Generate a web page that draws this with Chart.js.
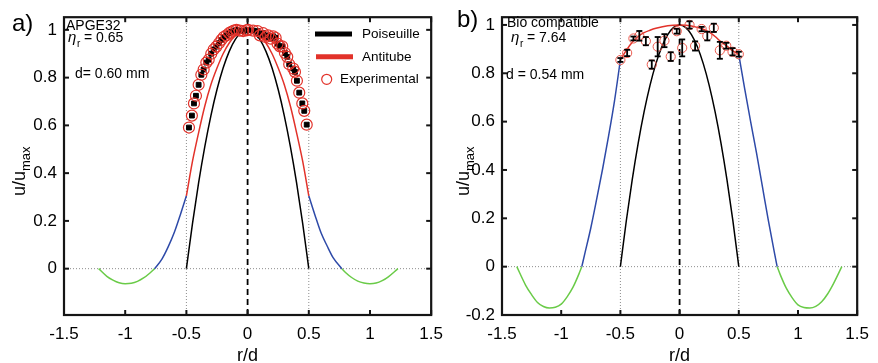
<!DOCTYPE html>
<html>
<head>
<meta charset="utf-8">
<script src="https://cdn.jsdelivr.net/npm/chart.js"></script>
<style>
  html, body { margin: 0; padding: 0; background: #fff; }
  #wrap { position: relative; width: 878px; height: 363px; overflow: hidden; }
  canvas { position: absolute; top: 0; }
  #chartA { left: 0; }
  #chartB { left: 448px; }
</style>
</head>
<body>
<div id="wrap">
  <canvas id="chartA" width="452" height="363" style="width:452px;height:363px"></canvas>
  <canvas id="chartB" width="430" height="363" style="width:430px;height:363px"></canvas>
</div>
<script>
"use strict";
const xTicks = [-1.5, -1, -0.5, 0, 0.5, 1, 1.5];
const yTicksA = [0, 0.2, 0.4, 0.6, 0.8, 1];
const yTicksB = [-0.2, 0, 0.2, 0.4, 0.6, 0.8, 1];
const xMin = -1.5, xMax = 1.5;
const yMinA = -0.194, yMaxA = 1.053;
const yMinB = -0.2, yMaxB = 1.032;

// Poiseuille profile (same in both panels)
const innerR = [-0.5, -0.45, -0.4, -0.35, -0.3, -0.25, -0.2, -0.15, -0.1, -0.05, 0,
  0.05, 0.1, 0.15, 0.2, 0.25, 0.3, 0.35, 0.4, 0.45, 0.5];
const poiseuilleU = [0, 0.19, 0.36, 0.51, 0.64, 0.75, 0.84, 0.91, 0.96, 0.99, 1,
  0.99, 0.96, 0.91, 0.84, 0.75, 0.64, 0.51, 0.36, 0.19, 0];

// panel a) APGE32
const antitubeAU = [0.305, 0.45, 0.57, 0.68, 0.77, 0.84, 0.9, 0.945, 0.975, 0.994, 1,
  0.994, 0.975, 0.945, 0.9, 0.84, 0.77, 0.68, 0.57, 0.45, 0.305];
const blueALeftR = [-0.76, -0.7, -0.65, -0.6, -0.55, -0.5];
const blueALeftU = [0, 0.04, 0.09, 0.15, 0.225, 0.305];
const blueARightR = [0.5, 0.55, 0.6, 0.65, 0.7, 0.77];
const blueARightU = [0.305, 0.225, 0.15, 0.095, 0.045, 0];
const greenALeftR = [-1.217, -1.15, -1.1, -1.05, -1, -0.95, -0.9, -0.85, -0.8, -0.76];
const greenALeftU = [0, -0.032, -0.048, -0.059, -0.063, -0.061, -0.053, -0.039, -0.019, 0];
const greenARightR = [0.77, 0.8, 0.85, 0.9, 0.95, 1, 1.05, 1.1, 1.15, 1.228];
const greenARightU = [0, -0.016, -0.037, -0.052, -0.06, -0.063, -0.06, -0.05, -0.034, 0];
const expAR = [-0.479, -0.455, -0.438, -0.422, -0.4, -0.378, -0.359, -0.337, -0.318, -0.297,
  -0.277, -0.255, -0.234, -0.214, -0.195, -0.173, -0.152, -0.133, -0.113, -0.091, -0.064,
  -0.036, -0.01, 0.004, 0.045, 0.081, 0.1, 0.127, 0.147, 0.168, 0.19, 0.209, 0.229, 0.245,
  0.264, 0.283, 0.305, 0.324, 0.34, 0.373, 0.387, 0.403, 0.422, 0.447, 0.463, 0.483];
const expAU = [0.591, 0.641, 0.692, 0.724, 0.77, 0.812, 0.834, 0.863, 0.875, 0.9,
  0.918, 0.93, 0.944, 0.958, 0.97, 0.977, 0.986, 0.992, 0.997, 1.0, 0.997,
  0.995, 0.998, 1.0, 0.997, 0.995, 0.977, 0.986, 0.97, 0.977, 0.963, 0.973, 0.967, 0.942,
  0.931, 0.931, 0.903, 0.887, 0.856, 0.838, 0.824, 0.787, 0.737, 0.692, 0.661, 0.603];

// panel b) Bio compatible
const antitubeBR = [-0.5, -0.45, -0.4, -0.35, -0.3, -0.25, -0.2, -0.1, 0, 0.1, 0.2, 0.25,
  0.3, 0.35, 0.4, 0.45, 0.5];
const antitubeBU = [0.856, 0.895, 0.928, 0.952, 0.968, 0.978, 0.986, 0.997, 1.0, 0.996,
  0.982, 0.97, 0.952, 0.93, 0.912, 0.893, 0.878];
const blueBLeftR = [-0.826, -0.8, -0.75, -0.7, -0.65, -0.6, -0.55, -0.5];
const blueBLeftU = [0, 0.055, 0.16, 0.28, 0.405, 0.54, 0.685, 0.856];
const blueBRightR = [0.5, 0.55, 0.6, 0.65, 0.7, 0.75, 0.8, 0.824];
const blueBRightU = [0.878, 0.735, 0.6, 0.47, 0.33, 0.19, 0.06, 0];
const greenBLeftR = [-1.375, -1.3, -1.25, -1.2, -1.15, -1.1, -1.05, -1, -0.95, -0.9, -0.85, -0.826];
const greenBLeftU = [0, -0.077, -0.116, -0.148, -0.165, -0.171, -0.168, -0.155, -0.125, -0.085, -0.03, 0];
const greenBRightR = [0.824, 0.85, 0.9, 0.95, 1, 1.05, 1.1, 1.15, 1.2, 1.25, 1.3, 1.37];
const greenBRightU = [0, -0.033, -0.088, -0.128, -0.158, -0.169, -0.171, -0.164, -0.145, -0.113, -0.07, 0];
const expBR = [-0.5, -0.443, -0.39, -0.34, -0.285, -0.235, -0.185, -0.128, -0.075, -0.024,
  0.022, 0.084, 0.131, 0.186, 0.234, 0.289, 0.34, 0.394, 0.447, 0.5];
const expBU = [0.855, 0.884, 0.944, 0.955, 0.933, 0.836, 0.91, 0.935, 0.869, 0.974,
  0.905, 1.0, 0.913, 0.983, 0.954, 0.988, 0.895, 0.914, 0.889, 0.879];
const expBErr = [0.008, 0.013, 0.008, 0.02, 0.017, 0.017, 0.04, 0.027, 0.018, 0.01,
  0.035, 0.015, 0.019, 0.009, 0.018, 0.017, 0.035, 0.012, 0.015, 0.01];

const legendLabels = ["Poiseuille", "Antitube", "Experimental"];

const BLACK = "#000000";
const RED = "#e2322a";
const BLUE = "#2e4aa8";
const GREEN = "#6acb48";
const GRID = "#8c8c8c";
const FONT = "'Liberation Sans', Arial, sans-serif";

const pts = (xs, ys) => xs.map((x, i) => ({ x: x, y: ys[i] }));

function curve(xs, ys, color) {
  return {
    data: pts(xs, ys), showLine: true, borderColor: color, borderWidth: 1.5,
    pointRadius: 0, cubicInterpolationMode: "monotone", fill: false
  };
}
function refLine(data, color, width, dash) {
  return {
    data: data, showLine: true, borderColor: color, borderWidth: width,
    borderDash: dash, pointRadius: 0, tension: 0, fill: false
  };
}

const decor = {
  id: "decor",
  afterDatasetsDraw(chart, args, o) {
    const ctx = chart.ctx;
    const a = chart.chartArea;
    const xs = chart.scales.x, ys = chart.scales.y;
    ctx.save();
    const seg = (x1, y1, x2, y2) => { ctx.beginPath(); ctx.moveTo(x1, y1); ctx.lineTo(x2, y2); ctx.stroke(); };

    // error bars
    if (o.errR) {
      ctx.strokeStyle = BLACK;
      ctx.lineWidth = 1.8;
      o.errR.forEach((r, i) => {
        const px = xs.getPixelForValue(r);
        const p1 = ys.getPixelForValue(o.errU[i] - o.errE[i]);
        const p2 = ys.getPixelForValue(o.errU[i] + o.errE[i]);
        seg(px, p1, px, p2);
        seg(px - 3, p1, px + 3, p1);
        seg(px - 3, p2, px + 3, p2);
      });
    }

    // box and inside ticks
    ctx.strokeStyle = "#151515";
    ctx.lineWidth = 2.2;
    ctx.strokeRect(a.left, a.top, a.right - a.left, a.bottom - a.top);
    ctx.lineWidth = 2;
    xTicks.forEach(v => {
      const px = xs.getPixelForValue(v);
      seg(px, a.bottom, px, a.bottom - 5);
      seg(px, a.top, px, a.top + 5);
    });
    o.yTicks.forEach(v => {
      const py = ys.getPixelForValue(v);
      seg(a.left, py, a.left + 5, py);
      seg(a.right, py, a.right - 5, py);
    });

    // panel letter
    ctx.fillStyle = BLACK;
    ctx.textBaseline = "alphabetic";
    ctx.textAlign = "left";
    ctx.font = "24px " + FONT;
    ctx.fillText(o.letter[0], o.letter[1], o.letter[2]);

    // notes
    ctx.font = "14px " + FONT;
    ctx.fillText(o.title[0], o.title[1], o.title[2]);
    ctx.fillText(o.diam[0], o.diam[1], o.diam[2]);
    ctx.font = "italic 15px " + FONT;
    ctx.fillText("\u03B7", o.eta[1], o.eta[2]);
    ctx.font = "10px " + FONT;
    ctx.fillText("r", o.eta[1] + 9, o.eta[2] + 5);
    ctx.font = "14px " + FONT;
    ctx.fillText(" = " + o.eta[0], o.eta[1] + 12, o.eta[2]);

    // axis titles
    ctx.font = "18px " + FONT;
    ctx.textAlign = "center";
    ctx.fillText("r/d", (a.left + a.right) / 2, 361);
    ctx.save();
    ctx.translate(o.yTitleX, o.yTitleY);
    ctx.rotate(-Math.PI / 2);
    ctx.textAlign = "left";
    ctx.font = "18px " + FONT;
    ctx.fillText("u/u", 0, 0);
    const w = ctx.measureText("u/u").width;
    ctx.font = "13px " + FONT;
    ctx.fillText("max", w, 5);
    ctx.restore();

    // legend
    if (o.legend) {
      const lx = o.legend[0], ly = o.legend[1];
      ctx.lineWidth = 5;
      ctx.strokeStyle = BLACK;
      seg(lx, ly, lx + 37, ly);
      ctx.strokeStyle = RED;
      seg(lx + 1, ly + 22.7, lx + 38, ly + 22.7);
      ctx.lineWidth = 1.2;
      ctx.beginPath();
      ctx.arc(lx + 11.7, ly + 45.3, 5, 0, Math.PI * 2);
      ctx.stroke();
      ctx.font = "13.5px " + FONT;
      ctx.textAlign = "left";
      ctx.textBaseline = "middle";
      ctx.fillStyle = BLACK;
      ctx.fillText(legendLabels[0], lx + 47, ly);
      ctx.fillText(legendLabels[1], lx + 47, ly + 23);
      ctx.fillText(legendLabels[2], lx + 25, ly + 45.5);
    }
    ctx.restore();
  }
};

function makeChart(id, cfg) {
  return new Chart(document.getElementById(id).getContext("2d"), {
    type: "scatter",
    data: { datasets: cfg.datasets },
    plugins: [decor],
    options: {
      responsive: false,
      animation: false,
      events: [],
      layout: { padding: { left: 0, right: cfg.padRight, top: 15, bottom: 0 } },
      plugins: { legend: { display: false }, tooltip: { enabled: false }, decor: cfg.decor },
      scales: {
        x: {
          type: "linear", min: xMin, max: xMax,
          grid: { display: false, drawTicks: false },
          border: { display: false },
          afterBuildTicks: s => { s.ticks = xTicks.map(v => ({ value: v })); },
          afterFit: s => { s.height = 48; },
          ticks: { font: { family: FONT, size: 17 }, color: BLACK, padding: 9, maxRotation: 0,
            callback: v => String(v) }
        },
        y: {
          type: "linear", min: cfg.yMin, max: cfg.yMax,
          grid: { display: false, drawTicks: false },
          border: { display: false },
          afterBuildTicks: s => { s.ticks = cfg.yTicks.map(v => ({ value: v })); },
          afterFit: s => { s.width = cfg.axisLeft; },
          ticks: { font: { family: FONT, size: 17 }, color: BLACK, padding: 7,
            callback: v => String(v) }
        }
      }
    }
  });
}

makeChart("chartA", {
  padRight: 20, axisLeft: 64, yMin: yMinA, yMax: yMaxA, yTicks: yTicksA,
  datasets: [
    { data: pts(expAR, expAU), pointStyle: "circle", pointRadius: 5.5, borderColor: RED,
      backgroundColor: "rgba(0,0,0,0)", borderWidth: 1.2 },
    { data: pts(expAR, expAU), pointStyle: "rect", pointRadius: 3.4, borderColor: BLACK,
      backgroundColor: BLACK, borderWidth: 1 },
    refLine([{ x: 0, y: yMinA }, { x: 0, y: yMaxA }], BLACK, 1.8, [6, 4]),
    curve(innerR, antitubeAU, RED),
    curve(innerR, poiseuilleU, BLACK),
    curve(blueALeftR, blueALeftU, BLUE),
    curve(blueARightR, blueARightU, BLUE),
    curve(greenALeftR, greenALeftU, GREEN),
    curve(greenARightR, greenARightU, GREEN),
    refLine([{ x: -0.5, y: yMinA }, { x: -0.5, y: yMaxA }], GRID, 1, [1, 2]),
    refLine([{ x: 0.5, y: yMinA }, { x: 0.5, y: yMaxA }], GRID, 1, [1, 2]),
    refLine([{ x: xMin, y: 0 }, { x: xMax, y: 0 }], GRID, 1, [1, 2])
  ],
  decor: {
    yTicks: yTicksA,
    letter: ["a)", 12, 31],
    title: ["APGE32", 66, 30],
    eta: ["0.65", 68, 42],
    diam: ["d= 0.60 mm", 75, 78],
    yTitleX: 25, yTitleY: 196,
    legend: [315, 34]
  }
});

makeChart("chartB", {
  padRight: 15, axisLeft: 54, yMin: yMinB, yMax: yMaxB, yTicks: yTicksB,
  datasets: [
    { data: pts(expBR, expBU), pointStyle: "circle", pointRadius: 4.6, borderColor: "#ec5a4e",
      backgroundColor: "rgba(0,0,0,0)", borderWidth: 1 },
    refLine([{ x: 0, y: yMinB }, { x: 0, y: yMaxB }], BLACK, 1.8, [6, 4]),
    curve(antitubeBR, antitubeBU, RED),
    curve(innerR, poiseuilleU, BLACK),
    curve(blueBLeftR, blueBLeftU, BLUE),
    curve(blueBRightR, blueBRightU, BLUE),
    curve(greenBLeftR, greenBLeftU, GREEN),
    curve(greenBRightR, greenBRightU, GREEN),
    refLine([{ x: -0.5, y: yMinB }, { x: -0.5, y: yMaxB }], GRID, 1, [1, 2]),
    refLine([{ x: 0.5, y: yMinB }, { x: 0.5, y: yMaxB }], GRID, 1, [1, 2]),
    refLine([{ x: xMin, y: 0 }, { x: xMax, y: 0 }], GRID, 1, [1, 2])
  ],
  decor: {
    yTicks: yTicksB,
    errR: expBR, errU: expBU, errE: expBErr,
    letter: ["b)", 9, 27],
    title: ["Bio compatible", 59, 27],
    eta: ["7.64", 63, 42],
    diam: ["d = 0.54 mm", 58, 79],
    yTitleX: 21, yTitleY: 196
  }
});
</script>
</body>
</html>
